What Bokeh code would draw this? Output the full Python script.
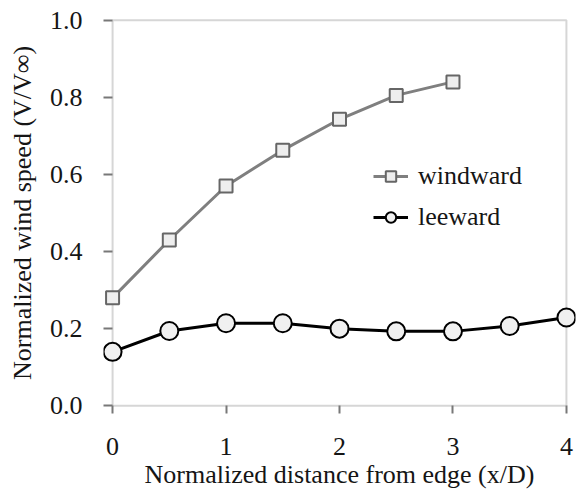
from bokeh.plotting import figure
from bokeh.models import Range1d, BoxAnnotation, Legend, LegendItem, FixedTicker, PrintfTickFormatter
from bokeh.embed import file_html
from bokeh.resources import INLINE

# ---- data ----
distance = [0, 0.5, 1, 1.5, 2, 2.5, 3, 3.5, 4]
windward_x = [0, 0.5, 1, 1.5, 2, 2.5, 3]
windward = [0.28, 0.43, 0.57, 0.663, 0.743, 0.805, 0.84]
leeward = [0.14, 0.194, 0.214, 0.214, 0.20, 0.193, 0.193, 0.207, 0.229]
x_ticks = [0, 1, 2, 3, 4]
y_ticks = [0.0, 0.2, 0.4, 0.6, 0.8, 1.0]
x_label = "Normalized distance from edge (x/D)"
y_label = "Normalized wind speed (V/V\u221e)"
series_names = ["windward", "leeward"]

X_MIN, X_MAX = 0, 4
Y_MIN, Y_MAX = 0, 1
PAD_X, PAD_Y = 0.08, 0.02

FONT = "Liberation Serif"
AXIS_COLOR = "#787878"

p = figure(width=576, height=496,
           x_range=Range1d(X_MIN - PAD_X, X_MAX + PAD_X),
           y_range=Range1d(Y_MIN - PAD_Y, Y_MAX + PAD_Y),
           output_backend="svg", toolbar_location=None,
           min_border_left=103, min_border_right=1,
           min_border_top=12, min_border_bottom=83)
p.outline_line_color = None
p.grid.visible = False
p.background_fill_color = "white"
p.border_fill_color = "white"

# plot-area box drawn at the data limits
box = BoxAnnotation(left=X_MIN, right=X_MAX, bottom=Y_MIN, top=Y_MAX,
                    fill_alpha=0, line_color=AXIS_COLOR, line_width=2,
                    level="underlay")
p.add_layout(box)

for ax in (p.xaxis, p.yaxis):
    ax.axis_line_color = None
    ax.major_tick_line_color = AXIS_COLOR
    ax.major_tick_line_width = 2
    ax.major_tick_out = 0
    ax.minor_tick_line_color = None
    ax.major_label_text_font = FONT
    ax.major_label_text_font_size = "26px"
    ax.major_label_text_color = "#151515"
    ax.axis_label_text_font = FONT
    ax.axis_label_text_font_size = "26px"
    ax.axis_label_text_font_style = "normal"
    ax.axis_label_text_color = "#151515"

p.xaxis.ticker = FixedTicker(ticks=x_ticks)
p.yaxis.ticker = FixedTicker(ticks=y_ticks)
p.yaxis.formatter = PrintfTickFormatter(format="%.1f")
# ticks reach from the frame edge to the data limit
p.xaxis.major_tick_in = 8
p.yaxis.major_tick_in = 9
p.xaxis.major_label_standoff = 24
p.yaxis.major_label_standoff = 21
p.xaxis.axis_label = x_label
p.yaxis.axis_label = y_label
p.xaxis.axis_label_standoff = 2
p.yaxis.axis_label_standoff = 10

wl = p.line(windward_x, windward, line_color="#7f7f7f", line_width=3)
ws = p.scatter(windward_x, windward, marker="square", size=13,
               fill_color="#eeeeee", line_color="#666666", line_width=2)
ll = p.line(distance, leeward, line_color="black", line_width=3)
lc = p.scatter(distance, leeward, marker="circle", size=18,
               fill_color="#f0f0f0", line_color="black", line_width=2)

legend = Legend(items=[LegendItem(label=series_names[0], renderers=[wl, ws]),
                       LegendItem(label=series_names[1], renderers=[ll, lc])],
                location=(270, 181), orientation="vertical")
legend.border_line_color = None
legend.background_fill_alpha = 0
legend.padding = 0
legend.margin = 0
legend.spacing = 11
legend.glyph_width = 35
legend.glyph_height = 26
legend.label_standoff = 10
legend.label_text_font = FONT
legend.label_text_font_size = "26px"
legend.label_text_color = "#151515"
p.add_layout(legend, "center")

open("out.html", "w").write(file_html(p, INLINE))
